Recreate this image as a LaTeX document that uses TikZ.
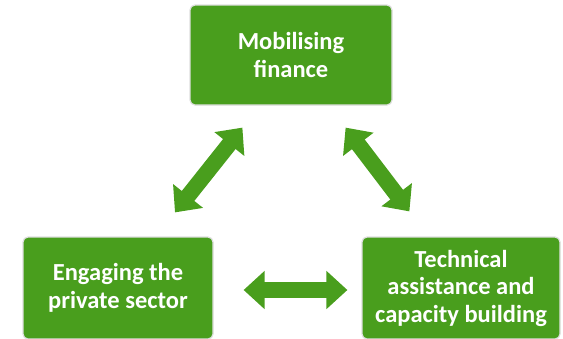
\documentclass[tikz,border=0pt]{standalone}
\usepackage{fontspec}
\setmainfont{Carlito}
\usetikzlibrary{arrows.meta}
\definecolor{leafgreen}{RGB}{73,158,29}

\tikzset{
  greenbox/.style={rectangle, rounded corners=5pt, fill=leafgreen, draw=gray!25,
    line width=1.2pt, text=white, align=center, inner sep=0pt,
    font=\fontsize{24.5}{27.5}\selectfont\bfseries},
  bigarrow/.style={leafgreen, line width=16pt,
    {Triangle[width=37pt,length=21pt]}-{Triangle[width=37pt,length=21pt]}}
}

\begin{document}
\begin{tikzpicture}[x=1pt,y=-1pt]
        \useasboundingbox (0,0) rectangle (563,338);

        % Boxes.
        \node[greenbox, minimum width=202pt, minimum height=100pt] (mob) at (291,55) {Mobilising\\finance};
        \node[greenbox, minimum width=190pt, minimum height=102pt] (eng) at (118,288) {Engaging the\\private sector};
        \node[greenbox, minimum width=198pt, minimum height=102pt] (tech) at (461,288) {Technical\\assistance and\\capacity building};

        % Arrows.
        \draw[bigarrow] ([shift={(57pt,24pt)}]eng.north) -- ([shift={(53pt,-22pt)}]mob.south west);
        \draw[bigarrow] ([shift={(-47pt,-22pt)}]mob.south east) -- ([shift={(48pt,25pt)}]tech.north west);
        \draw[bigarrow] ([shift={(30pt,-2pt)}]eng.east) -- ([shift={(-14pt,-2pt)}]tech.west);
    \end{tikzpicture}
\end{document}
